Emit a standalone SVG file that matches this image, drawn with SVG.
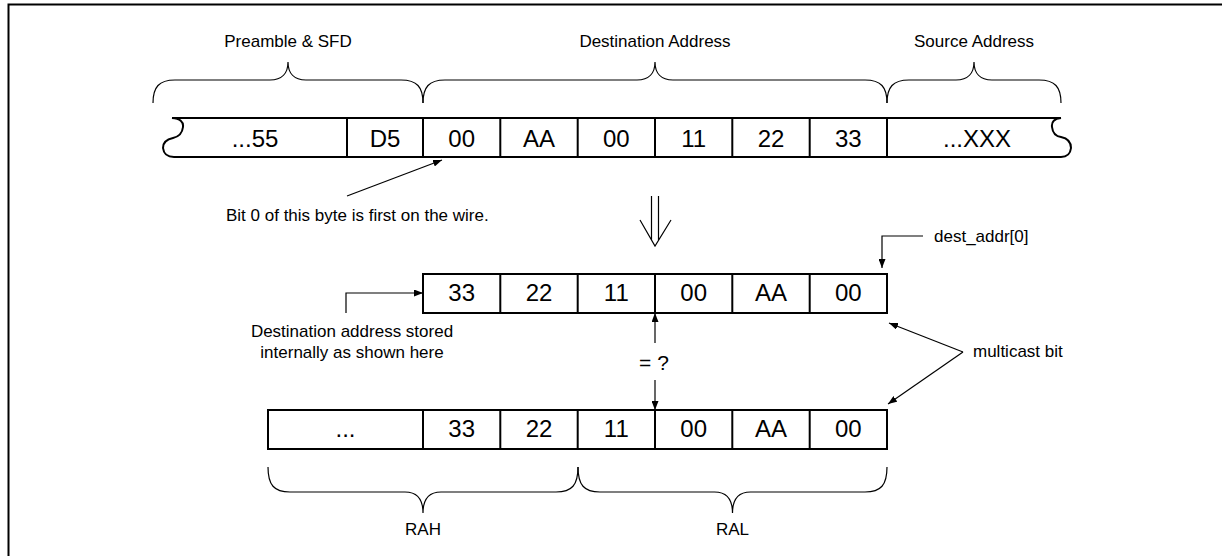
<svg xmlns="http://www.w3.org/2000/svg" width="1222" height="556" viewBox="0 0 1222 556">
<style>
.box{fill:#fff;stroke:#000;stroke-width:2}
.div{stroke:#000;stroke-width:2;fill:none}
.brace{fill:none;stroke:#000;stroke-width:1.2}
.cell{font-family:"Liberation Sans",Arial,sans-serif;font-size:24px;text-anchor:middle;fill:#000}
.lbl{font-family:"Liberation Sans",Arial,sans-serif;font-size:17px;fill:#000}
.mid{text-anchor:middle}
.con{fill:none;stroke:#000;stroke-width:1.2}
</style>
<defs>
<marker id="ah" markerUnits="userSpaceOnUse" markerWidth="9" markerHeight="7" refX="9" refY="3.5" orient="auto">
<path d="M0,0 L9,3.5 L0,7 z" fill="#000"/>
</marker>
</defs>
<rect width="1222" height="556" fill="#fff"/>
<path d="M8.5,556 V4.5 H1222" fill="none" stroke="#000" stroke-width="2"/>

<g id="label-preamble">
<path class="brace" d="M153,103 C153,87 159,80 175,80 H270 C282,80 288,73 288,62 C288,73 294,80 306,80 H401 C417,80 423,87 423,103"/>
<text class="lbl mid" x="288" y="47">Preamble &amp; SFD</text>
</g>
<g id="label-destination">
<path class="brace" d="M423,103 C423,87 429,80 445,80 H637 C649,80 655,73 655,62 C655,73 661,80 673,80 H865 C881,80 887,87 887,103"/>
<text class="lbl mid" x="655" y="47">Destination Address</text>
</g>
<g id="label-source">
<path class="brace" d="M887,103 C887,87 893,80 909,80 H956 C968,80 974,73 974,62 C974,73 980,80 992,80 H1039 C1055,80 1061,87 1061,103"/>
<text class="lbl mid" x="974" y="47">Source Address</text>
</g>

<g id="wire-frame">
<path class="box" d="M172,118 H1061 Q1051,119 1052,127 Q1053,136 1061,137 Q1071,139 1071,148 Q1070,157 1061,157 H174 Q164,157 163,148 Q163,140 173,138 Q182,136 183,127 Q184,119 172,118 Z"/>
<path class="div" d="M347,118 V157 M423,118 V157 M500.3,118 V157 M577.7,118 V157 M655,118 V157 M732.3,118 V157 M809.7,118 V157 M887,118 V157"/>
<text class="cell" x="255" y="147">...55</text>
<text class="cell" x="385" y="147">D5</text>
<text class="cell" x="461.7" y="147">00</text>
<text class="cell" x="539" y="147">AA</text>
<text class="cell" x="616.3" y="147">00</text>
<text class="cell" x="693.7" y="147">11</text>
<text class="cell" x="771" y="147">22</text>
<text class="cell" x="848.3" y="147">33</text>
<text class="cell" x="977" y="147">...XXX</text>
</g>

<g id="note-bit0">
<text class="lbl" x="226" y="221">Bit 0 of this byte is first on the wire.</text>
</g>

<g id="transform-arrow">
<path class="con" d="M651.5,196 V240 M658.5,196 V240 M640,220 L655,246 L671,220"/>
</g>

<g id="stored-address">
<rect class="box" x="423" y="274" width="464" height="39"/>
<path class="div" d="M500.3,274 V313 M577.7,274 V313 M655,274 V313 M732.3,274 V313 M809.7,274 V313"/>
<text class="cell" x="461.7" y="301">33</text>
<text class="cell" x="539" y="301">22</text>
<text class="cell" x="616.3" y="301">11</text>
<text class="cell" x="693.7" y="301">00</text>
<text class="cell" x="771" y="301">AA</text>
<text class="cell" x="848.3" y="301">00</text>
</g>

<g id="note-dest-addr0">
<text class="lbl" x="934" y="242">dest_addr[0]</text>
</g>

<g id="note-stored">
<text class="lbl mid" x="352" y="337">Destination address stored</text>
<text class="lbl mid" x="352" y="358">internally as shown here</text>
</g>

<g id="note-compare">
<text class="lbl mid" x="654" y="370" style="font-size:21px">= ?</text>
</g>

<g id="note-multicast">
<text class="lbl" x="973" y="357">multicast bit</text>
</g>

<g id="register">
<rect class="box" x="268" y="410" width="619" height="39"/>
<path class="div" d="M423,410 V449 M500.3,410 V449 M577.7,410 V449 M655,410 V449 M732.3,410 V449 M809.7,410 V449"/>
<text class="cell" x="345.5" y="437">...</text>
<text class="cell" x="461.7" y="437">33</text>
<text class="cell" x="539" y="437">22</text>
<text class="cell" x="616.3" y="437">11</text>
<text class="cell" x="693.7" y="437">00</text>
<text class="cell" x="771" y="437">AA</text>
<text class="cell" x="848.3" y="437">00</text>
</g>

<g id="label-rah">
<path class="brace" d="M268,467 C268,485 274,492 290,492 H405 C417,492 423,499 423,513 C423,499 429,492 441,492 H556 C572,492 578,485 578,467"/>
<text class="lbl mid" x="423" y="535">RAH</text>
</g>
<g id="label-ral">
<path class="brace" d="M578,467 C578,485 584,492 600,492 H714.5 C726.5,492 732.5,499 732.5,513 C732.5,499 738.5,492 750.5,492 H865 C881,492 887,485 887,467"/>
<text class="lbl mid" x="732.5" y="535">RAL</text>
</g>

<g id="connectors">
<path class="con" d="M347,196 L442,160" marker-end="url(#ah)"/>
<path class="con" d="M923,236 H882 V268" marker-end="url(#ah)"/>
<path class="con" d="M346,313 V293 H423" marker-end="url(#ah)"/>
<path class="con" d="M655,343 V313" marker-end="url(#ah)"/>
<path class="con" d="M655,380 V410" marker-end="url(#ah)"/>
<path class="con" d="M963,352 L889,323" marker-end="url(#ah)"/>
<path class="con" d="M963,352 L888,404" marker-end="url(#ah)"/>
</g>
</svg>
